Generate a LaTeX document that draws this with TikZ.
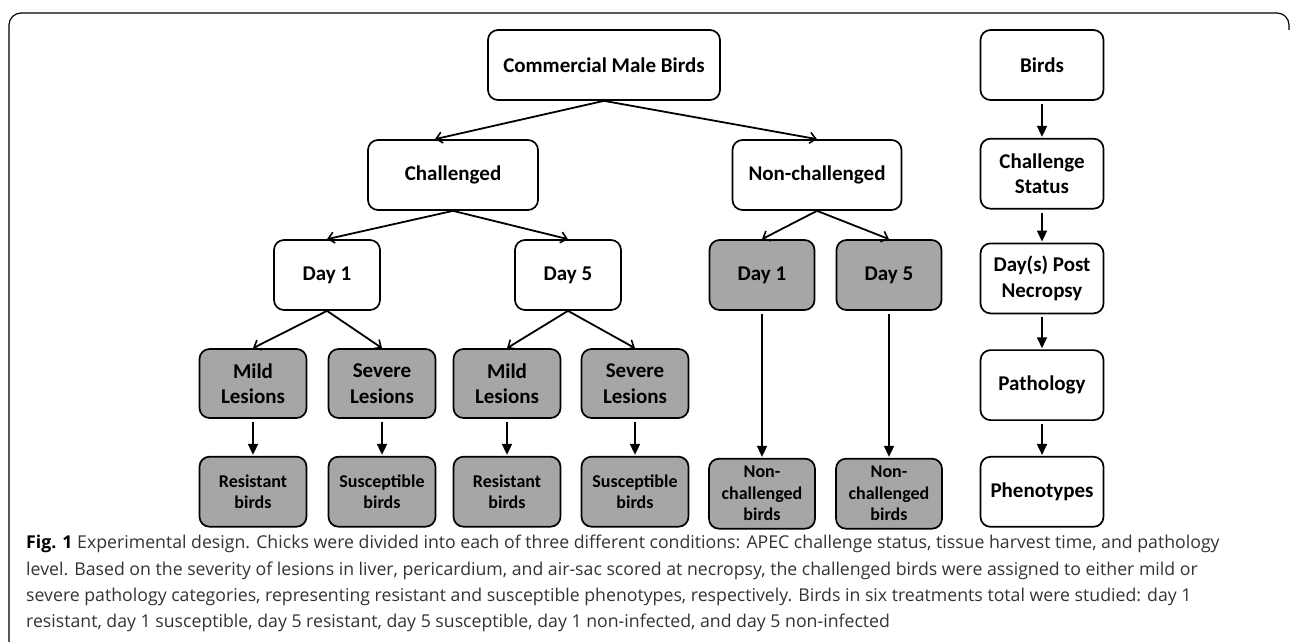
\documentclass[tikz,border=0pt]{standalone}
\usepackage{fontspec}
\setmainfont{Carlito}
\newfontfamily\captionfont{Open Sans}
\usetikzlibrary{arrows.meta,positioning}
\definecolor{boxgray}{HTML}{A6A6A6}
\definecolor{captiongray}{HTML}{333333}

\begin{document}
\begin{tikzpicture}[
  x=1pt,y=-1pt,
  node distance=37pt and 20pt,
  block/.style={draw,rounded corners=10pt,line width=1.7pt,minimum height=70pt,align=center,fill=white,inner sep=2pt,font=\bfseries\fontsize{21}{25.5}\selectfont},
  shaded/.style={block,fill=boxgray},
  smalltext/.style={font=\bfseries\fontsize{18}{21.5}\selectfont},
  branch/.style={-{Straight Barb[length=6pt,width=11pt,line width=1.6pt]},line width=1.8pt},
  downarrow/.style={-{Triangle[length=11pt,width=10pt]},line width=1.8pt,shorten <=3pt,shorten >=1pt}
]
\useasboundingbox (0,0) rectangle (1290,642);
\draw[line width=1.2pt,rounded corners=12pt] (9,642) -- (9,13) -- (1289,13) -- (1289,30);

% main tree
\node[block,minimum width=232pt] (birds) at (604,65) {Commercial Male Birds};
\node[block,minimum width=170pt] (chal) at (453,175) {Challenged};
\node[block,minimum width=169pt] (nonchal) at (817,175) {Non-challenged};
\node[block,minimum width=106pt] (d1) at (327,275) {Day 1};
\node[block,minimum width=106pt] (d5) at (568,275) {Day 5};
\node[shaded,minimum width=105pt] (nd1) at (762,275) {Day 1};
\node[shaded,minimum width=105pt] (nd5) at (889,275) {Day 5};
\node[shaded,minimum width=107pt,minimum height=69pt] (mild1) at (253,383.5) {Mild\\Lesions};
\node[shaded,minimum width=107pt,minimum height=69pt] (sev1) at (382,383.5) {Severe\\Lesions};
\node[shaded,minimum width=107pt,minimum height=69pt] (mild5) at (507,383.5) {Mild\\Lesions};
\node[shaded,minimum width=107pt,minimum height=69pt] (sev5) at (635,383.5) {Severe\\Lesions};
\node[shaded,smalltext,minimum width=107pt,below=37pt of mild1] (res1) {Resistant\\birds};
\node[shaded,smalltext,minimum width=107pt,below=37pt of sev1] (sus1) {Susceptible\\birds};
\node[shaded,smalltext,minimum width=107pt,below=37pt of mild5] (res5) {Resistant\\birds};
\node[shaded,smalltext,minimum width=107pt,below=37pt of sev5] (sus5) {Susceptible\\birds};
\node[shaded,smalltext,minimum width=106pt,below=147pt of nd1] (ncb1) {Non-\\challenged\\birds};
\node[shaded,smalltext,minimum width=106pt,below=147pt of nd5] (ncb5) {Non-\\challenged\\birds};

% legend column
\node[block,minimum width=123pt] (lbirds) at (1042,65) {Birds};
\node[block,minimum width=123pt,below=37pt of lbirds] (lstatus) {Challenge\\Status};
\node[block,minimum width=123pt,below=33pt of lstatus] (lday) {Day(s) Post\\Necropsy};
\node[block,minimum width=123pt,below=35pt of lday] (lpath) {Pathology};
\node[block,minimum width=123pt,below=35pt of lpath] (lpheno) {Phenotypes};

\draw[branch] (birds.south) -- ([xshift=-18pt]chal.north);
\draw[branch] (birds.south) -- (nonchal.north);
\draw[branch] (chal.south) -- (d1.north);
\draw[branch] (chal.south) -- (d5.north);
\draw[branch] (nonchal.south) -- (nd1.north);
\draw[branch] (nonchal.south) -- (nd5.north);
\draw[branch] (d1.south) -- (mild1.north);
\draw[branch] (d1.south) -- (sev1.north);
\draw[branch] (d5.south) -- (mild5.north);
\draw[branch] (d5.south) -- (sev5.north);
\draw[downarrow] (mild1) -- (res1);
\draw[downarrow] (sev1) -- (sus1);
\draw[downarrow] (mild5) -- (res5);
\draw[downarrow] (sev5) -- (sus5);
\draw[downarrow] (nd1) -- (ncb1);
\draw[downarrow] (nd5) -- (ncb5);
\draw[downarrow] (lbirds) -- (lstatus);
\draw[downarrow] (lstatus) -- (lday);
\draw[downarrow] (lday) -- (lpath);
\draw[downarrow] (lpath) -- (lpheno);

% caption
\node[anchor=north west,align=left,inner sep=0pt,text=captiongray,font=\captionfont\fontsize{17.7}{26.3}\selectfont] (caption) at (26,535)
  {{\bfseries\color{black}Fig. 1} Experimental design. Chicks were divided into each of three different conditions: APEC challenge status, tissue harvest time, and pathology\\
  level. Based on the severity of lesions in liver, pericardium, and air-sac scored at necropsy, the challenged birds were assigned to either mild or\\
  severe pathology categories, representing resistant and susceptible phenotypes, respectively. Birds in six treatments total were studied: day 1\\
  resistant, day 1 susceptible, day 5 resistant, day 5 susceptible, day 1 non-infected, and day 5 non-infected};
\end{tikzpicture}
\end{document}
